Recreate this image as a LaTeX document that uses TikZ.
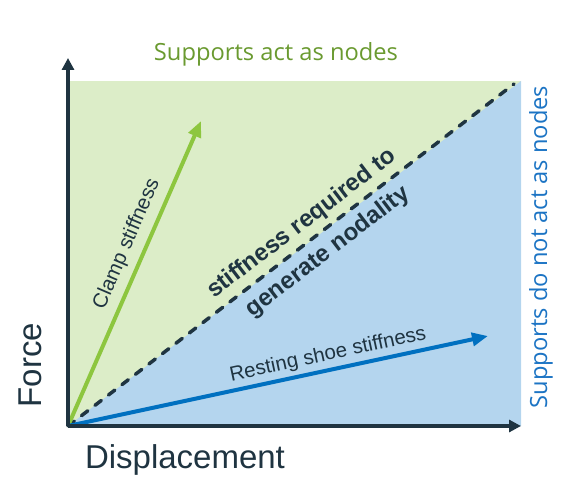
\documentclass[tikz,border=0pt]{standalone}
\usepackage{fontspec}
\setmainfont{Liberation Sans}
\newfontfamily\supfont{Open Sans}
\usetikzlibrary{arrows.meta}
\definecolor{axisdark}{HTML}{1F3441}
\definecolor{nodefill}{HTML}{DCEDC8}
\definecolor{freefill}{HTML}{B4D5EE}
\definecolor{clampgreen}{HTML}{8DC63F}
\definecolor{shoeblue}{HTML}{0070C0}
\definecolor{nodetext}{HTML}{6A9A30}
\definecolor{freetext}{HTML}{1C74C4}
\begin{document}
\begin{tikzpicture}[x=1pt,y=1pt,line join=round,
  axis/.style={draw=axisdark,line width=3.5pt,-{Triangle[length=12pt,width=12pt]}},
  stiffarrow/.style={line width=4pt,-{Triangle[length=16pt,width=13pt]}},
  limitline/.style={draw=axisdark,line width=3.5pt,line cap=round,dash pattern=on 8pt off 9pt},
  curvelabel/.style={text=axisdark,font=\fontsize{20.5}{24}\selectfont},
  limitlabel/.style={text=axisdark,font=\fontsize{24}{28}\selectfont\bfseries,rotate=37.3},
  axislabel/.style={text=axisdark,font=\fontsize{33}{38}\selectfont},
  regionlabel/.style={font=\supfont\fontsize{23.7}{28}\selectfont}]
\useasboundingbox (0,0) rectangle (570,499);
\coordinate (O) at (68,73);
\coordinate (ytop) at (68,441);
\coordinate (xend) at (521,73);
\coordinate (corner) at (521,418);
\coordinate (dashend) at (514,415);
\coordinate (clamptip) at (201,378);
\coordinate (shoetip) at (488,163);
% Bereiche oberhalb und unterhalb der Grenzsteifigkeit.
\fill[nodefill] (O) rectangle (corner);
\fill[freefill] (O) -- (corner) -- (xend) -- cycle;
\draw[limitline] (O) -- (dashend);
% Steifigkeiten als Pfeile aus dem Ursprung.
\draw[stiffarrow,clampgreen] (O) -- (clamptip);
\draw[stiffarrow,shoeblue] (O) -- (shoetip);
\draw[axis] (O) -- (ytop);
\draw[axis] (O) -- (xend);
% Beschriftungen.
\node[curvelabel,rotate=66.7] (clamp) at (127,255){Clamp stiffness};
\node[curvelabel,rotate=12.1] (shoe) at (328,144){Resting shoe stiffness};
\node[limitlabel] (req) at (302,275){stiffness required to};
\node[limitlabel] (gen) at (328,247){generate nodality};
\node[axislabel,rotate=90] (force) at (30,134){Force};
\node[axislabel] (disp) at (185,39){Displacement};
\node[regionlabel,text=nodetext] (acts) at (276,445){Supports act as nodes};
\node[regionlabel,text=freetext,rotate=90] (notacts) at (541,252){Supports do not act as nodes};
\end{tikzpicture}
\end{document}
